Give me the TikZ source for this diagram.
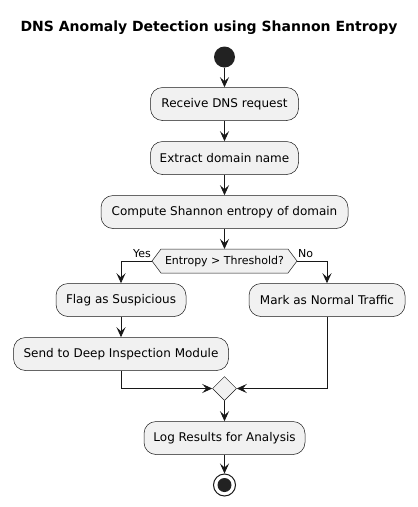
\documentclass[tikz,border=0pt]{standalone}
\usepackage{fontspec}
\setmainfont{DejaVu Sans}
\usetikzlibrary{arrows.meta,shapes.geometric}
\definecolor{boxfill}{HTML}{F1F1F1}
\definecolor{ink}{HTML}{181818}
\definecolor{dot}{HTML}{222222}
\tikzset{
  act/.style={draw=ink,fill=boxfill,rounded corners=12pt,minimum height=33pt,inner sep=0pt,font=\fontsize{12}{14}\selectfont,line width=0.5pt},
  arr/.style={draw=ink,line width=0.9pt,-{Stealth[length=10pt,width=9pt,inset=4pt]}},
  lbl/.style={font=\fontsize{11}{13}\selectfont,inner sep=0pt}
}
\begin{document}
\begin{tikzpicture}[x=1pt,y=-1pt]
\useasboundingbox (0,0) rectangle (418,507);
\node[font=\bfseries\fontsize{14}{16}\selectfont] (title) at (209,28) {DNS Anomaly Detection using Shannon Entropy};
\node[circle,fill=dot,minimum size=21pt,inner sep=0pt] (start) at (224.5,57) {};
\node[act,minimum width=148pt] (recv) at (224.5,104) {Receive DNS request};
\node[act,minimum width=148pt] (extr) at (224.5,158) {Extract domain name};
\node[act,minimum width=247pt] (comp) at (224.5,212) {Compute Shannon entropy of domain};
% decision hexagon
\coordinate (dl) at (152,261);
\coordinate (dr) at (297,261);
\coordinate (dt) at (224.5,249);
\filldraw[draw=ink,fill=boxfill,line width=0.5pt] (dl) -- (161,249) -- (288,249) -- (dr) -- (288,273) -- (161,273) -- cycle;
\node[font=\fontsize{11}{13}\selectfont] (dec) at (224.5,261) {Entropy > Threshold?};
\node[act,minimum width=130pt] (flag) at (121,300) {Flag as Suspicious};
\node[act,minimum width=215pt] (send) at (121,354) {Send to Deep Inspection Module};
\node[act,minimum width=156pt] (mark) at (327,300) {Mark as Normal Traffic};
\node[diamond,draw=ink,fill=boxfill,line width=0.5pt,minimum width=24pt,minimum height=24pt,inner sep=0pt] (merge) at (224.5,388.5) {};
\node[act,minimum width=161pt] (log) at (224.5,438) {Log Results for Analysis};
\node[circle,draw=ink,line width=1pt,minimum size=22pt,inner sep=0pt] (stop) at (224.5,485) {};
\node[circle,fill=dot,minimum size=14pt,inner sep=0pt] (stopdot) at (224.5,485) {};
\node[lbl,anchor=south east] (yes) at (151,258) {Yes};
\node[lbl,anchor=south west] (no) at (298,258) {No};
\draw[arr] (start) -- (recv);
\draw[arr] (recv) -- (extr);
\draw[arr] (extr) -- (comp.north -| extr.south);
\draw[arr] (comp.south -| dt) -- (dt);
\draw[arr] (dl) -| (flag.north);
\draw[arr] (dr) -| (mark.north);
\draw[arr] (flag) -- (send);
\draw[arr] (send.south) |- (merge.west);
\draw[arr] (mark.south) |- (merge.east);
\draw[arr] (merge.south) -- (log.north);
\draw[arr] (log.south) -- (stop.north);
\end{tikzpicture}
\end{document}
